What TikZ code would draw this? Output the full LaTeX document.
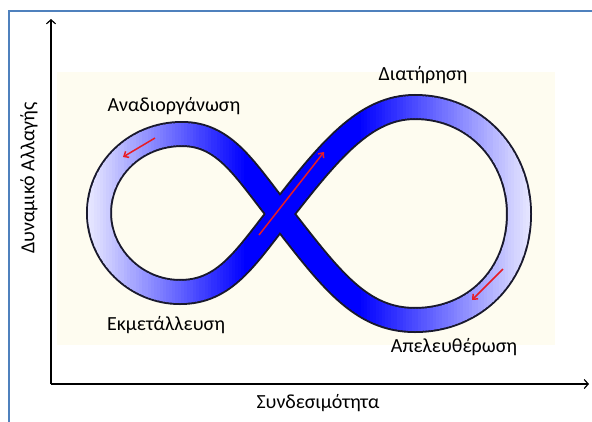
\documentclass[tikz,border=0pt]{standalone}
\usepackage{fontspec}
\setmainfont{Carlito}
\usetikzlibrary{arrows.meta}
\definecolor{framecol}{RGB}{79,129,189}
\definecolor{creamcol}{RGB}{254,252,240}
\definecolor{arrowred}{RGB}{232,28,36}
\definecolor{rimcol}{RGB}{25,25,45}
\tikzset{every node/.style={font=\fontsize{20}{24}\selectfont},line cap=round,line join=round}
\tikzset{axis/.style={line width=1.2pt,-{Straight Barb[length=4pt,width=9pt]}},
  flow/.style={arrowred,line width=1.5pt,-{Straight Barb[length=4pt,width=7pt]}}}
% centre line of the figure-eight band
\newcommand\eightpath{(280,214) .. controls (330,150) and (365,107) .. (415,107)
  .. controls (475,107) and (519,155) .. (519,214)
  .. controls (519,275) and (475,320) .. (415,320)
  .. controls (360,320) and (330,278) .. (280,214)
  .. controls (245,170) and (225,134) .. (182,134)
  .. controls (135,134) and (99,170) .. (99,213)
  .. controls (99,255) and (135,292) .. (180,292)
  .. controls (225,292) and (245,258) .. (280,214) -- cycle}

\begin{document}
\begin{tikzpicture}[x=1pt,y=-1pt]
  \path[use as bounding box] (0,0) rectangle (592,421);
  \draw[framecol,line width=1.5pt] (9,440) -- (9,11) -- (610,11);
  \fill[creamcol] (57,72) rectangle (555,345);

  % band: dark rim, then blue fading to white towards both ends
  \draw[rimcol,line width=26pt] \eightpath;
  \foreach \i in {0,...,149} {
    \pgfmathsetmacro\xa{82+\i*3}
    \pgfmathsetmacro\xm{\xa+1.5}
    \pgfmathsetmacro\pl{10+(\xm-90)/155*90}
    \pgfmathsetmacro\pr{100-(\xm-360)/170*90}
    \pgfmathtruncatemacro\pc{max(10,min(100,min(\pl,\pr)))}
    \begin{scope}
      \clip (\xa,60) rectangle (\xa+4,360);
      \draw[blue!\pc!white,line width=22pt] \eightpath;
    \end{scope}
  }

  % red direction arrows
  \coordinate (f1s) at (155,138); \coordinate (f1e) at (123,157);
  \coordinate (f2s) at (259,235); \coordinate (f2e) at (324,152);
  \coordinate (f3s) at (503,269); \coordinate (f3e) at (472,300);
  \draw[flow] (f1s) -- (f1e);
  \draw[flow] (f2s) -- (f2e);
  \draw[flow] (f3s) -- (f3e);

  % axes
  \coordinate (origin) at (51,384);
  \coordinate (ytip) at (51,19);
  \coordinate (xtip) at (589,384);
  \draw[axis] (origin) -- (ytip);
  \draw[axis] (origin) -- (xtip);

  \node (reorg) at (174,106) {Αναδιοργάνωση};
  \node (conserv) at (423,75) {Διατήρηση};
  \node (exploit) at (166,325) {Εκμετάλλευση};
  \node (release) at (454,347) {Απελευθέρωση};
  \node (xlab) at (318,403) {Συνδεσιμότητα};
  \node[rotate=90] (ylab) at (29,178) {Δυναμικό Αλλαγής};
\end{tikzpicture}
\end{document}
